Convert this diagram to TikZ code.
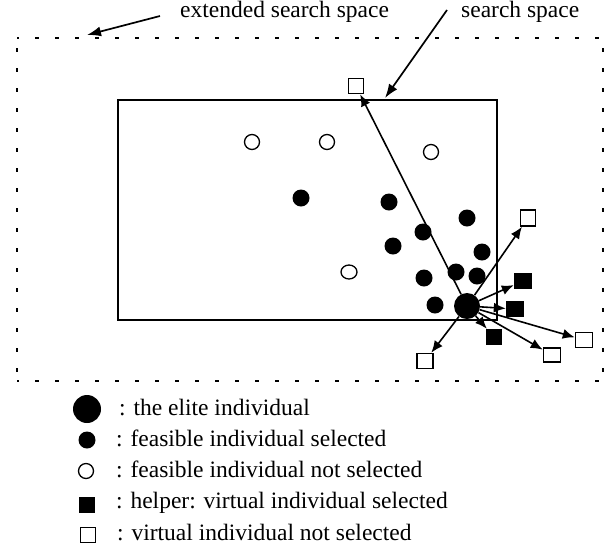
\documentclass[tikz,border=0pt]{standalone}
\usepackage{fontspec}
\setmainfont{Liberation Serif}
\usetikzlibrary{arrows.meta,shapes.geometric}
\begin{document}
\begin{tikzpicture}[x=1pt,y=-1pt,
  every node/.style={font=\fontsize{23.5}{28}\selectfont},
  elite/.style={circle,fill=black,inner sep=0pt,minimum size=26pt},
  fcirc/.style={circle,fill=black,inner sep=0pt,minimum size=17pt},
  ocirc/.style={circle,draw=black,line width=1.3pt,fill=white,inner sep=0pt,minimum size=15pt},
  fsq/.style={rectangle,fill=black,inner sep=0pt,minimum size=16pt},
  osq/.style={rectangle,draw=black,line width=1.5pt,fill=white,inner sep=0pt,minimum width=15pt,minimum height=15pt},
  arr/.style={line width=1.6pt,-{Latex[length=12pt,width=10pt]}},
  farr/.style={line width=1.7pt,-{Latex[length=14pt,width=10pt]}},
  lbl/.style={anchor=base west,inner sep=0pt},
  dots/.style={line width=2pt,dash pattern=on 4pt off 16pt,dash phase=2pt}
]
\useasboundingbox (0,0) rectangle (612,550);
% extended search space (dotted)
\draw[dots] (17,38) -- (602,38);
\draw[dots] (17,381) -- (602,381);
\draw[line width=2pt,dash pattern=on 4pt off 16pt] (17,48) -- (17,381);
\draw[line width=2pt,dash pattern=on 4pt off 16pt] (603,48) -- (603,381);
% search space
\draw[line width=1.8pt] (118,100) rectangle (497,320);
% labels
\node[lbl] (lext) at (180,17) {extended search space};
\node[lbl] (lss) at (461,17) {search space};
\coordinate (aext) at (160,16);
\coordinate (text) at (87,35);
\coordinate (ass) at (447,10);
\coordinate (tss) at (385,98);
\draw[farr] (aext) -- (text);
\draw[farr] (ass) -- (tss);
% open circles
\node[ocirc] (o1) at (252,142) {};
\node[ocirc] (o2) at (327,142) {};
\node[ocirc] (o3) at (431,152) {};
\node[ocirc,ellipse,minimum width=16pt,minimum height=14pt] (o4) at (349,272) {};
% filled circles
\node[fcirc] (f1) at (301,198) {};
\node[fcirc] (f2) at (389,202) {};
\node[fcirc] (f3) at (423,232) {};
\node[fcirc] (f4) at (467,218) {};
\node[fcirc] (f5) at (393,246) {};
\node[fcirc] (f6) at (482,252) {};
\node[fcirc] (f7) at (424,278) {};
\node[fcirc] (f8) at (456,272) {};
\node[fcirc] (f9) at (477,276) {};
\node[fcirc] (f10) at (435,305) {};
% virtual individuals
\node[osq] (v1) at (356,86) {};
\node[osq,minimum height=16pt] (v2) at (528,218) {};
\node[osq,minimum width=17pt] (v3) at (584,340) {};
\node[osq,minimum width=17pt,minimum height=14pt] (v4) at (552,355) {};
\node[osq,minimum width=16pt] (v5) at (425,361) {};
\node[fsq,minimum width=18pt] (h1) at (523,281) {};
\node[fsq,minimum width=18pt] (h2) at (515,309) {};
\node[fsq] (h3) at (494,337) {};
% elite
\node[elite] (e) at (467,306) {};
% arrows from elite
\draw[arr] (e) -- (v1);
\draw[arr] (e) -- (v2);
\draw[arr] (e) -- (h1);
\draw[arr] (e) -- (h2);
\draw[arr] (e) -- (h3);
\draw[arr] (e) -- (v3);
\draw[arr] (e) -- (v4);
\draw[arr] (e) -- (v5);
% legend
\node[elite,minimum size=28pt] (k1) at (87,409) {};
\node[fcirc] (k2) at (87,440) {};
\node[ocirc] (k3) at (86,471) {};
\node[fsq] (k4) at (87,505) {};
\node[osq] (k5) at (88,535) {};
\node[lbl] (t1) at (119,415) {: the elite individual};
\node[lbl] (t2) at (116,446) {: feasible individual selected};
\node[lbl] (t3) at (116,477) {: feasible individual not selected};
\node[lbl] (t4) at (116,508) {: helper: virtual individual selected};
\node[lbl] (t5) at (117,540) {: virtual individual not selected};
\end{tikzpicture}
\end{document}
